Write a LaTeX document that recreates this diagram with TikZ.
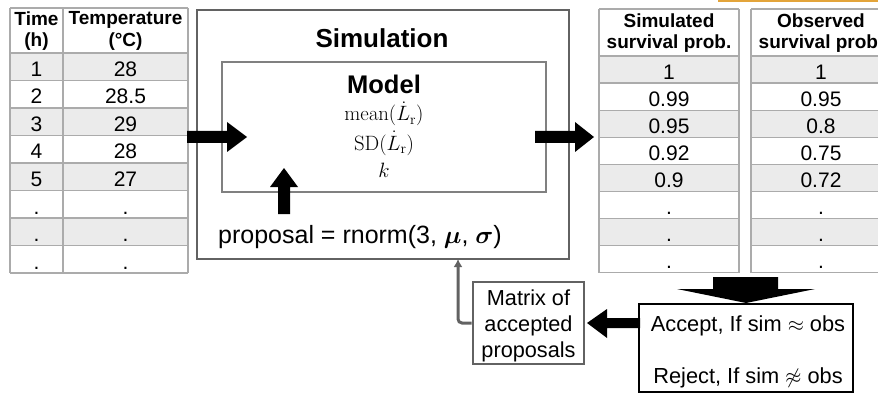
\documentclass[tikz,border=0pt]{standalone}
\usepackage{amsmath}
\usepackage{bm}
\usepackage[no-math]{fontspec}
\setmainfont{Liberation Sans}
\usetikzlibrary{arrows.meta}

\definecolor{cellgray}{HTML}{EBEBEB}
\definecolor{gridgray}{HTML}{ABABAB}
\definecolor{boxgray}{HTML}{626262}
\definecolor{modelgray}{HTML}{808080}
\definecolor{taborange}{HTML}{E3A43A}

\newcommand{\setsize}[2]{\fontsize{#1}{#2}\selectfont}

\tikzset{
  grid line/.style={draw=gridgray, line width=1.3pt},
  val/.style={anchor=base, inner sep=0pt, font=\setsize{21}{25}},
  head/.style={anchor=center, align=center, inner sep=0pt, font=\setsize{19}{21.5}\bfseries},
  blockarrow/.style={fill=black},
  plain/.style={inner sep=0pt, anchor=base},
  mathline/.style={plain, font=\setsize{19.5}{24}},
}

\begin{document}
\begin{tikzpicture}[x=1pt, y=-1pt]
\clip (0,0) rectangle (878,393);

% ---- input table: time and temperature ----
\foreach \r in {1,3,5,7}
  \fill[cellgray] (10,{53+(\r-1)*27.5}) rectangle (188,{53+\r*27.5});
\foreach \yy in {8,53,80.5,108,135.5,163,190.5,218,245.5,273}
  \draw[grid line] (10,\yy) -- (188,\yy);
\foreach \xx in {10,63,188}
  \draw[grid line] (\xx,8) -- (\xx,273);
\node[head] (hTime) at (36.5,31) {Time\\(h)};
\node[head] (hTemp) at (125.5,31) {Temperature\\(°C)};
\foreach \r/\a/\b in {1/1/28, 2/2/28.5, 3/3/29, 4/4/28, 5/5/27, 6/./., 7/./., 8/./.} {
  \node[val] (tt\r) at (36.5,{53+\r*27.5-4}) {\a};
  \node[val] (tc\r) at (125.5,{53+\r*27.5-4}) {\b};
}

% ---- output tables: simulated and observed survival ----
\foreach \r in {1,3,5,7} {
  \fill[cellgray] (599,{56+(\r-1)*27.1}) rectangle (739,{56+\r*27.1});
  \fill[cellgray] (751,{56+(\r-1)*27.1}) rectangle (891,{56+\r*27.1});
}
\foreach \yy in {9,56,83.1,110.2,137.3,164.4,191.5,218.6,245.7,272.8} {
  \draw[grid line] (599,\yy) -- (739,\yy);
  \draw[grid line] (751,\yy) -- (891,\yy);
}
\foreach \xx in {599,739,751,891}
  \draw[grid line] (\xx,9) -- (\xx,272.8);
\node[head] (hSim) at (669,33) {Simulated\\survival prob.};
\node[head] (hObs) at (821,33) {Observed\\survival prob.};
\foreach \r/\a/\b in {1/1/1, 2/0.99/0.95, 3/0.95/0.8, 4/0.92/0.75, 5/0.9/0.72, 6/./., 7/./., 8/./.} {
  \node[val] (ts\r) at (669,{56+\r*27.1-4}) {\a};
  \node[val] (to\r) at (821,{56+\r*27.1-4}) {\b};
}

% thin accent bar along the top edge
\fill[taborange] (718,0) rectangle (878,2);

% ---- simulation block ----
\draw[draw=boxgray, line width=2.6pt] (197,10) rectangle (569,259);
\node[plain, font=\setsize{26}{30}\bfseries] (simT) at (382,48) {Simulation};
\draw[draw=modelgray, line width=1.4pt] (222,62) rectangle (546,192);
\node[plain, font=\setsize{25.5}{30}\bfseries] (modT) at (384,94) {Model};
\node[mathline] (m1) at (384,121) {$\mathrm{mean}(\dot{L}_{\mathrm{r}})$};
\node[mathline] (m2) at (384,150) {$\mathrm{SD}(\dot{L}_{\mathrm{r}})$};
\node[mathline] (m3) at (384,177) {$k$};
\node[plain, font=\setsize{25}{29}] (prop) at (360,243) {proposal = rnorm(3, $\bm{\mu}$, $\bm{\sigma}$)};
\coordinate (tap) at (458,259);

% ---- acceptance step ----
\node[draw=black, line width=1.3pt, minimum width=214pt, minimum height=88pt, inner sep=0pt]
  (accbox) at (746,348) {};
\node[plain, font=\setsize{21.8}{25}] (acc) at (748,331) {Accept, If sim $\approx$ obs};
\node[plain, font=\setsize{21.8}{25}] (rej) at (748,383) {Reject, If sim $\not\approx$ obs};

\node[draw=boxgray, line width=2.6pt, minimum width=111pt, minimum height=82pt, inner sep=0pt]
  (mat) at (528.5,323) {};
\node[plain, font=\setsize{21.7}{25}] (mat1) at (528.5,305) {Matrix of};
\node[plain, font=\setsize{21.7}{25}] (mat2) at (528.5,331) {accepted};
\node[plain, font=\setsize{21.7}{25}] (mat3) at (528.5,357) {proposals};

% accepted proposals fed back to the simulation
\draw[draw=boxgray, line width=3pt, rounded corners=4pt, -{Latex[length=8pt,width=9pt]}]
  (mat.west) -| (tap);

% ---- block arrows ----
\fill[blockarrow] (187,131) -- (227,131) -- (227,122) -- (247,137) -- (227,152)
  -- (227,143) -- (187,143) -- cycle;
\fill[blockarrow] (535,131) -- (575,131) -- (575,122) -- (594,137) -- (575,152)
  -- (575,143) -- (535,143) -- cycle;
\fill[blockarrow] (278,214) -- (278,187) -- (270,187) -- (284,168) -- (298,187)
  -- (290,187) -- (290,214) -- cycle;
\fill[blockarrow] (713,277) -- (778,277) -- (778,289) -- (815,289) -- (746,303)
  -- (677,289) -- (713,289) -- cycle;
\fill[blockarrow] (640,318) -- (607,318) -- (607,309) -- (587,323) -- (607,338)
  -- (607,328) -- (640,328) -- cycle;
\end{tikzpicture}
\end{document}
